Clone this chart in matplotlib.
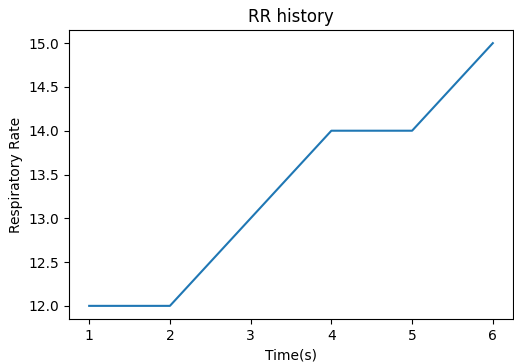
import matplotlib
matplotlib.use("Agg")
import matplotlib.pyplot as plt

# data
time_s = [1, 2, 3, 4, 5, 6]
resp_rate = [12, 12, 13, 14, 14, 15]

fig = plt.figure(figsize=(5.14, 3.64), dpi=100)
ax = fig.add_axes([69 / 514, 1 - 319 / 364, (513 - 69) / 514, (319 - 30) / 364])

ax.plot(time_s, resp_rate, color="#1f77b4")
ax.set_title("RR history")
ax.set_xlabel("Time(s)")
ax.set_ylabel("Respiratory Rate")

fig.savefig("out.png", dpi=100)
